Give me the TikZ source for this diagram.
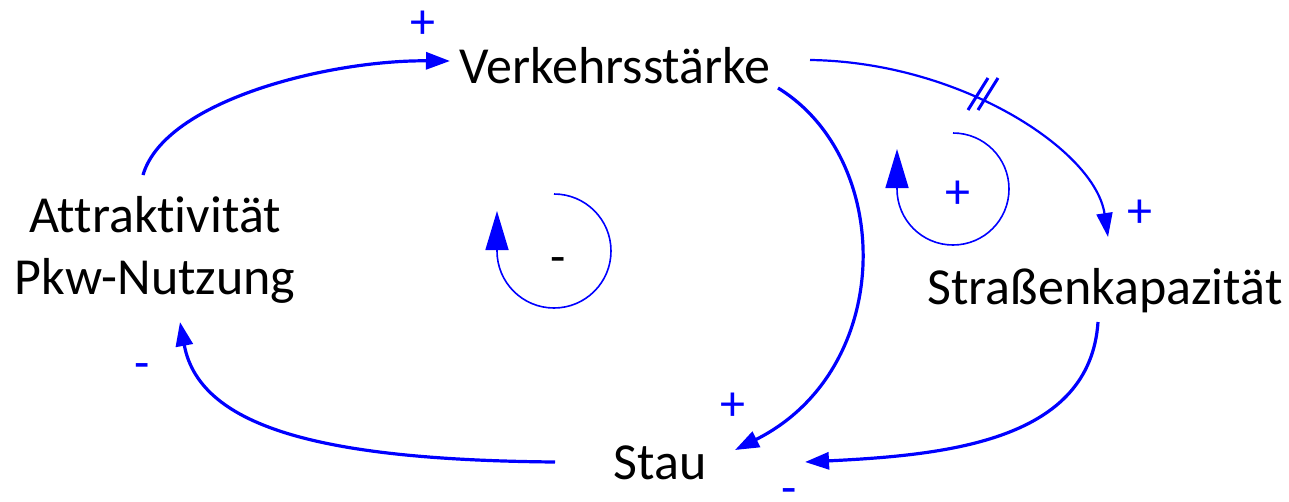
\documentclass[tikz,border=0pt]{standalone}
\usepackage{fontspec}
\setmainfont[Ligatures=NoCommon]{Carlito}
\usetikzlibrary{arrows.meta}
\definecolor{lb}{RGB}{0,0,255}
\begin{document}
\begin{tikzpicture}[x=1pt,y=-1pt,
  lbl/.style={font=\fontsize{52}{62}\selectfont, inner sep=0pt},
  link/.style={draw=lb, line width=3.2pt, -{Triangle[length=24pt,width=17pt]}},
  thinlink/.style={draw=lb, line width=2.2pt, -{Triangle[length=24pt,width=16pt]}},
  pol/.style={text=lb, font=\fontsize{50}{60}\selectfont, inner sep=0pt},
  polk/.style={text=black, font=\fontsize{50}{60}\selectfont, inner sep=0pt},
  loopline/.style={draw=lb, line width=1.6pt, -{Triangle[length=39pt,width=23pt]}},
  marks/.style={draw=lb, line width=3pt}]
\useasboundingbox (0,0) rectangle (1289,501);
\fill[white] (0,0) rectangle (1289,501);

\node[lbl] (V) at (615,66) {Verkehrsstärke};
\node[lbl, align=center] (A) at (155,250) {Attraktivität\\Pkw-Nutzung};
\node[lbl] (S) at (1105,291) {Straßenkapazität};
\node[lbl] (St) at (660,463) {Stau};

% links
\draw[link] ([shift={(-12,-75)}]A.center) .. controls (165,100) and (330,60) .. ([shift={(-165,-5)}]V.center);
\draw[thinlink] ([shift={(195,-6)}]V.center) .. controls (960,62) and (1095,150) .. ([shift={(3,-54)}]S.center);
\draw[link] ([shift={(163,22)}]V.center) .. controls (895,160) and (895,370) .. ([shift={(75,-13)}]St.center);
\draw[link] ([shift={(-7,31)}]S.center) .. controls (1090,440) and (950,455) .. ([shift={(145,-1)}]St.center);
\draw[link] ([shift={(-105,-1)}]St.center) .. controls (330,460) and (200,430) .. ([shift={(25,72)}]A.center);

% delay marks
\draw[marks] (968,110) -- (988,78);
\draw[marks] (978,110) -- (998,78);

% loop markers
\draw[loopline] (953,133) arc[start angle=-90, end angle=180, radius=56] -- (897,149);
\draw[loopline] (554,194) arc[start angle=-90, end angle=180, radius=57] -- (497,211);

% polarities
\node[pol] (p1) at (423,25) {+};
\node[pol] (p2) at (958,195) {+};
\node[pol] (p3) at (1140,214) {+};
\node[pol] (p4) at (733,407) {+};
\node[pol] (m1) at (789,497) {-};
\node[pol] (m2) at (142,372) {-};
\node[polk] (m3) at (558,266) {-};
\end{tikzpicture}
\end{document}
